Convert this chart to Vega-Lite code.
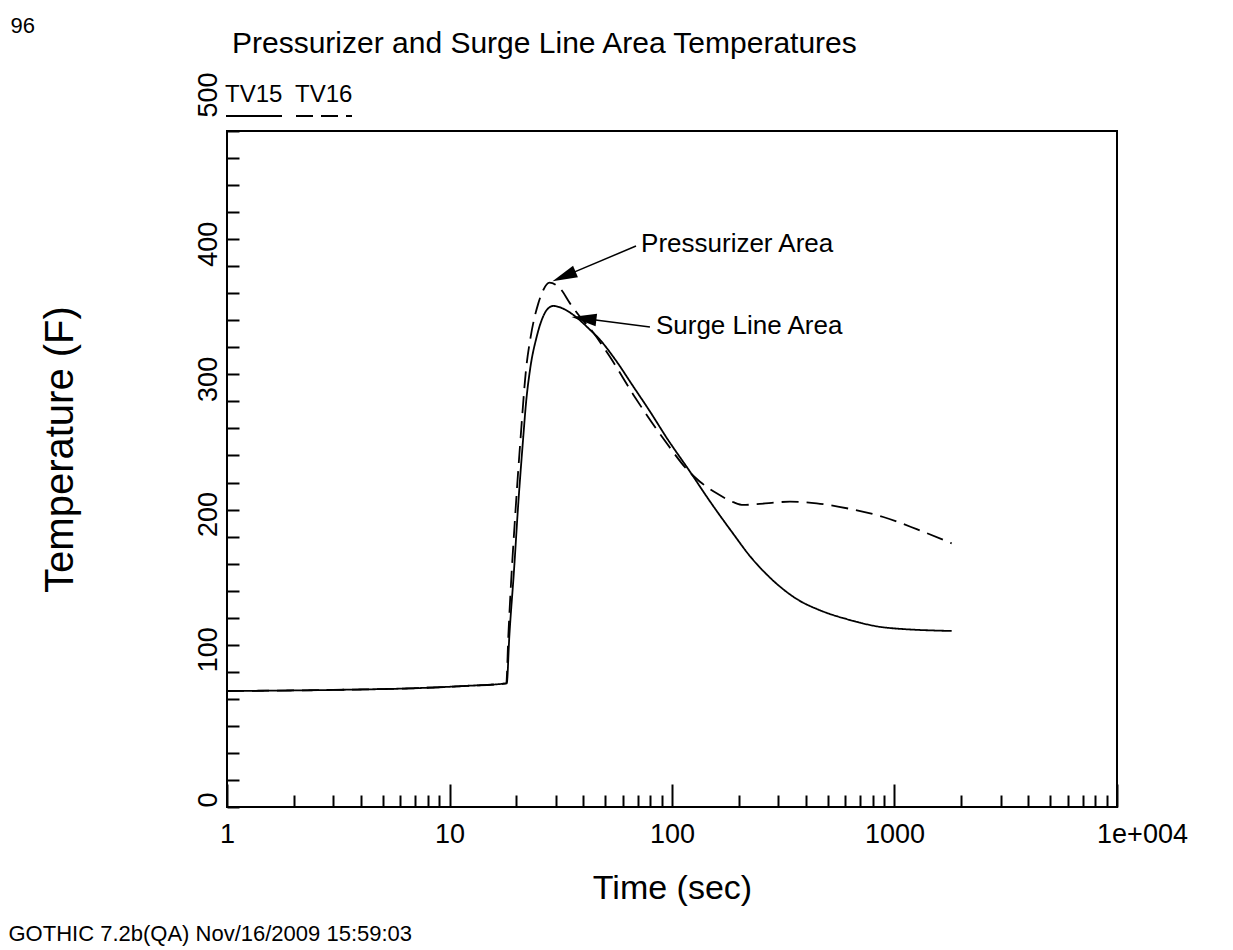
{
  "$schema": "https://vega.github.io/schema/vega-lite/v6.json",
  "width": 890,
  "height": 676,
  "autosize": {"type": "none"},
  "padding": {"left": 227, "top": 131, "right": 116, "bottom": 143},
  "background": "white",
  "config": {
    "view": {"stroke": "black", "strokeWidth": 2},
    "font": "Liberation Sans",
    "axis": {"grid": false, "domain": false, "tickColor": "black", "tickWidth": 2, "labelColor": "black", "titleColor": "black", "titleFontWeight": "normal", "labelFont": "Liberation Sans", "titleFont": "Liberation Sans"}
  },
  "title": {
    "text": "Pressurizer and Surge Line Area Temperatures",
    "anchor": "start",
    "frame": "group",
    "dx": 5,
    "offset": -45,
    "fontSize": 30,
    "fontWeight": "normal",
    "font": "Liberation Sans",
    "color": "black"
  },
  "datasets": {
    "curves": [
      {"series": "TV15", "time": 1, "temp": 85.8},
      {"series": "TV15", "time": 3, "temp": 86.6},
      {"series": "TV15", "time": 7.4, "temp": 88.0},
      {"series": "TV15", "time": 12, "temp": 89.6},
      {"series": "TV15", "time": 18.08, "temp": 91.5},
      {"series": "TV15", "time": 18.57, "temp": 126},
      {"series": "TV15", "time": 19.5, "temp": 175.3},
      {"series": "TV15", "time": 20.38, "temp": 224.6},
      {"series": "TV15", "time": 21.46, "temp": 273.9},
      {"series": "TV15", "time": 22.07, "temp": 298.6},
      {"series": "TV15", "time": 23.0, "temp": 323.2},
      {"series": "TV15", "time": 24.66, "temp": 347.9},
      {"series": "TV15", "time": 25.97, "temp": 360.2},
      {"series": "TV15", "time": 27.35, "temp": 367.6},
      {"series": "TV15", "time": 29.28, "temp": 370.6},
      {"series": "TV15", "time": 33, "temp": 368},
      {"series": "TV15", "time": 36, "temp": 364},
      {"series": "TV15", "time": 42.8, "temp": 353},
      {"series": "TV15", "time": 47.5, "temp": 345.5},
      {"series": "TV15", "time": 55, "temp": 332},
      {"series": "TV15", "time": 67, "temp": 311},
      {"series": "TV15", "time": 80, "temp": 292},
      {"series": "TV15", "time": 94.7, "temp": 273},
      {"series": "TV15", "time": 120.5, "temp": 248},
      {"series": "TV15", "time": 148.2, "temp": 226},
      {"series": "TV15", "time": 188.6, "temp": 202},
      {"series": "TV15", "time": 224.2, "temp": 185.5},
      {"series": "TV15", "time": 266.5, "temp": 172},
      {"series": "TV15", "time": 316.4, "temp": 161},
      {"series": "TV15", "time": 375, "temp": 152.5},
      {"series": "TV15", "time": 447, "temp": 146.5},
      {"series": "TV15", "time": 631, "temp": 138.3},
      {"series": "TV15", "time": 922.6, "temp": 132.6},
      {"series": "TV15", "time": 1807, "temp": 130.2},
      {"series": "TV16", "time": 1, "temp": 85.8},
      {"series": "TV16", "time": 3, "temp": 86.6},
      {"series": "TV16", "time": 7.4, "temp": 88.0},
      {"series": "TV16", "time": 12, "temp": 89.6},
      {"series": "TV16", "time": 18.0, "temp": 91.5},
      {"series": "TV16", "time": 18.38, "temp": 126},
      {"series": "TV16", "time": 19.9, "temp": 224.6},
      {"series": "TV16", "time": 20.89, "temp": 273.9},
      {"series": "TV16", "time": 22.07, "temp": 323.2},
      {"series": "TV16", "time": 23.17, "temp": 347.9},
      {"series": "TV16", "time": 25.07, "temp": 372.5},
      {"series": "TV16", "time": 26.4, "temp": 382.4},
      {"series": "TV16", "time": 28.1, "temp": 387.8},
      {"series": "TV16", "time": 31.4, "temp": 383.6},
      {"series": "TV16", "time": 34.8, "temp": 372.5},
      {"series": "TV16", "time": 38.6, "temp": 362.6},
      {"series": "TV16", "time": 42.8, "temp": 354},
      {"series": "TV16", "time": 52.6, "temp": 333},
      {"series": "TV16", "time": 67, "temp": 305},
      {"series": "TV16", "time": 94.7, "temp": 269},
      {"series": "TV16", "time": 117.8, "temp": 249},
      {"series": "TV16", "time": 133.6, "temp": 240.6},
      {"series": "TV16", "time": 158.8, "temp": 232},
      {"series": "TV16", "time": 188.6, "temp": 225.5},
      {"series": "TV16", "time": 209.1, "temp": 223.4},
      {"series": "TV16", "time": 240, "temp": 224},
      {"series": "TV16", "time": 339.1, "temp": 225.8},
      {"series": "TV16", "time": 447, "temp": 224.6},
      {"series": "TV16", "time": 631, "temp": 220.5},
      {"series": "TV16", "time": 890.6, "temp": 214.5},
      {"series": "TV16", "time": 1258, "temp": 205.5},
      {"series": "TV16", "time": 1807, "temp": 195}
    ],
    "notes": [
      {"label": "Pressurizer Area", "fromT": 68.9, "fromV": 414.9, "headT": 32.7, "headV": 392.5, "textT": 72.6, "textV": 416.4},
      {"label": "Surge Line Area", "fromT": 79.6, "fromV": 355.0, "headT": 40.2, "headV": 361.3, "textT": 84.7, "textV": 355.8}
    ]
  },
  "resolve": {"axis": {"x": "independent", "y": "independent"}},
  "layer": [
    {
      "data": {"name": "curves"},
      "mark": {"type": "line", "color": "black", "strokeWidth": 1.8, "interpolate": "monotone"},
      "encoding": {
        "x": {
          "field": "time", "type": "quantitative",
          "scale": {"type": "log", "domain": [1, 10000]},
          "axis": {
            "orient": "bottom",
            "values": [1, 10, 100, 1000, 10000],
            "tickSize": -23,
            "labelPadding": 37,
            "labelFontSize": 27,
            "labelExpr": "datum.value >= 10000 ? '1e+004' : format(datum.value, 'd')",
            "labelOffset": {"condition": {"test": "datum.value >= 10000", "value": 25}, "value": 0},
            "labelFlush": false,
            "title": "Time (sec)",
            "titleFontSize": 34,
            "titleX": 445,
            "titleY": 64,
            "titleAlign": "center",
            "titleBaseline": "top"
          }
        },
        "y": {
          "field": "temp", "type": "quantitative",
          "scale": {"domain": [0, 500]},
          "axis": {
            "orient": "left",
            "values": [0, 20, 40, 60, 80, 100, 120, 140, 160, 180, 200, 220, 240, 260, 280, 300, 320, 340, 360, 380, 400, 420, 440, 460, 480, 500],
            "tickSize": -12,
            "labelPadding": 23,
            "labelFontSize": 27,
            "labelAngle": 270,
            "labelAlign": "left",
            "labelBaseline": "alphabetic",
            "labelExpr": "datum.value % 100 == 0 ? format(datum.value, 'd') : ''",
            "labelOffset": {"condition": {"test": "datum.value == 500", "value": -14}, "value": 0},
            "labelFlush": false,
            "labelOverlap": false,
            "title": "Temperature (F)",
            "titleFontSize": 40,
            "titleAngle": 270,
            "titleX": -167,
            "titleY": 318,
            "titleAlign": "center",
            "titleBaseline": "middle"
          }
        },
        "strokeDash": {
          "field": "series", "type": "nominal",
          "scale": {"domain": ["TV15", "TV16"], "range": [[1, 0], [17, 8]]},
          "legend": {
            "title": null,
            "orient": "none",
            "legendX": -2,
            "legendY": -58,
            "direction": "horizontal",
            "symbolType": "M-1,0.5L1,0.5",
            "symbolSize": 3136,
            "symbolStrokeWidth": 2,
            "symbolStrokeColor": "black",
            "symbolFillColor": "transparent",
            "labelFontSize": 24,
            "labelColor": "black",
            "labelOffset": -58,
            "labelBaseline": "alphabetic",
            "columnPadding": 6,
            "padding": 0,
            "labelLimit": 0
          }
        }
      }
    },
    {
      "data": {"name": "notes"},
      "mark": {"type": "rule", "color": "black", "strokeWidth": 1.5},
      "encoding": {
        "x": {
          "field": "fromT", "type": "quantitative",
          "scale": {"type": "log", "domain": [1, 10000]},
          "axis": {
            "orient": "bottom",
            "values": [2, 3, 4, 5, 6, 7, 8, 9, 20, 30, 40, 50, 60, 70, 80, 90, 200, 300, 400, 500, 600, 700, 800, 900, 2000, 3000, 4000, 5000, 6000, 7000, 8000, 9000],
            "tickSize": -12,
            "labels": false,
            "title": "GOTHIC 7.2b(QA) Nov/16/2009 15:59:03",
            "titleFontSize": 22,
            "titleAngle": 0,
            "titleX": -219,
            "titleY": 133,
            "titleAlign": "left",
            "titleBaseline": "alphabetic"
          }
        },
        "x2": {"field": "headT"},
        "y": {
          "field": "fromV", "type": "quantitative",
          "scale": {"domain": [0, 500]},
          "axis": {
            "orient": "left",
            "ticks": false,
            "labels": false,
            "title": "96",
            "titleFontSize": 22,
            "titleAngle": 0,
            "titleX": -217,
            "titleY": -99,
            "titleAlign": "left",
            "titleBaseline": "alphabetic"
          }
        },
        "y2": {"field": "headV"}
      }
    },
    {
      "data": {"name": "notes"},
      "transform": [{"filter": "datum.label == 'Pressurizer Area'"}],
      "mark": {"type": "point", "shape": "M0,-1L0.5,1L-0.5,1Z", "filled": true, "color": "black", "size": 625, "angle": 247, "opacity": 1},
      "encoding": {
        "x": {"field": "headT", "type": "quantitative", "scale": {"type": "log", "domain": [1, 10000]}, "axis": null},
        "y": {"field": "headV", "type": "quantitative", "scale": {"domain": [0, 500]}, "axis": null}
      }
    },
    {
      "data": {"name": "notes"},
      "transform": [{"filter": "datum.label == 'Surge Line Area'"}],
      "mark": {"type": "point", "shape": "M0,-1L0.5,1L-0.5,1Z", "filled": true, "color": "black", "size": 625, "angle": 277, "opacity": 1},
      "encoding": {
        "x": {"field": "headT", "type": "quantitative", "scale": {"type": "log", "domain": [1, 10000]}, "axis": null},
        "y": {"field": "headV", "type": "quantitative", "scale": {"domain": [0, 500]}, "axis": null}
      }
    },
    {
      "data": {"name": "notes"},
      "mark": {"type": "text", "align": "left", "baseline": "middle", "fontSize": 26, "font": "Liberation Sans", "color": "black"},
      "encoding": {
        "x": {"field": "textT", "type": "quantitative", "scale": {"type": "log", "domain": [1, 10000]}, "axis": null},
        "y": {"field": "textV", "type": "quantitative", "scale": {"domain": [0, 500]}, "axis": null},
        "text": {"field": "label"}
      }
    }
  ]
}
